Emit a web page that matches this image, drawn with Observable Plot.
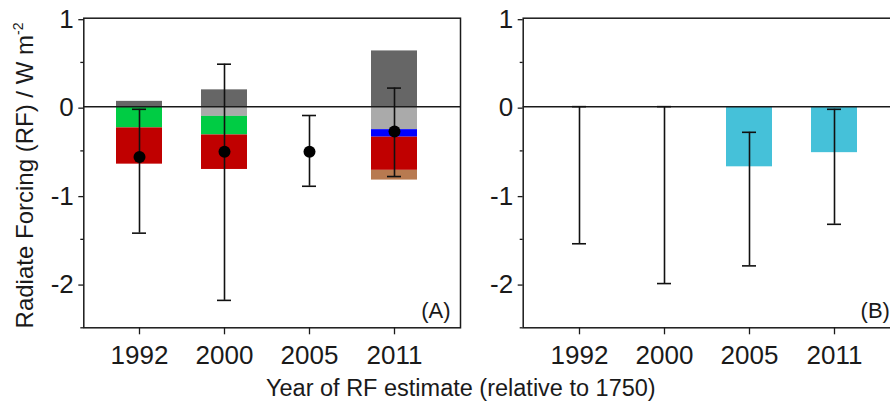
<!DOCTYPE html>
<html>
<head>
<meta charset="utf-8">
<script src="https://cdn.jsdelivr.net/npm/d3@7"></script>
<script src="https://cdn.jsdelivr.net/npm/@observablehq/plot@0.6"></script>
<style>
  html, body { margin: 0; padding: 0; background: #fff; }
  #chart { position: relative; width: 890px; height: 403px; overflow: hidden;
           font-family: "Liberation Sans", Arial, sans-serif; color: #1a1a1a; }
  #chart svg { position: absolute; top: 0; }
  #xtitle { position: absolute; left: 266px; top: 376px; font-size: 23.5px; line-height: 24px;
            white-space: nowrap; }
</style>
</head>
<body>
<div id="chart"></div>
<script>
// Estimate years (x categories) and y tick values
const years = ["1992", "2000", "2005", "2011"];
const yTicks = [-2, -1, 0, 1];
const yMinorTicks = [-2.5, -1.5, -0.5, 0.5];

// (A) aerosol components, W m-2 per estimate year (0 = not given)
const components = ["Black carbon", "Organic carbon", "Biomass burning", "Nitrate", "Sulphate", "Mineral dust"];
const componentColors = ["#666666", "#aaaaaa", "#00cc44", "#0000ff", "#c00000", "#b87a50"];
const blackCarbon    = [0.06, 0.19, 0, 0.63];
const organicCarbon  = [0, -0.11, 0, -0.26];
const biomassBurning = [-0.24, -0.21, 0, 0];
const nitrate        = [0, 0, 0, -0.085];
const sulphate       = [-0.41, -0.39, 0, -0.375];
const mineralDust    = [0, 0, 0, -0.11];

// (A) best estimate and uncertainty range
const bestA = [-0.57, -0.51, -0.51, -0.28];
const lowA  = [-1.43, -2.19, -0.90, -0.79];
const highA = [-0.03, 0.48, -0.10, 0.21];

// (B) best estimate and uncertainty range
const valueB = [null, null, -0.68, -0.52];
const lowB   = [-1.55, -2.00, -1.80, -1.33];
const highB  = [0, 0, -0.29, -0.03];

const componentValues = [blackCarbon, organicCarbon, biomassBurning, nitrate, sulphate, mineralDust];
const stackA = [];
years.forEach((year, i) => {
  components.forEach((component, j) => {
    const value = componentValues[j][i];
    if (value !== 0) stackA.push({year, component, value});
  });
});
const rangesA = years.map((year, i) => ({year, best: bestA[i], low: lowA[i], high: highA[i]}));
const rangesB = years.map((year, i) => ({year, value: valueB[i], low: lowB[i], high: highB[i]}));

const ink = "#1a1a1a";
const fmt = d => String(d);

function panel({width, marginLeft, marginRight, marks, tag}) {
  return Plot.plot({
    width, height: 403,
    marginLeft, marginRight, marginTop: 17.7, marginBottom: 75.7,
    style: {fontFamily: "Liberation Sans, Arial, sans-serif", fontSize: "26px", background: "transparent", color: ink},
    x: {domain: years, paddingInner: 0.46, paddingOuter: 0.437, align: 0.434, label: null},
    y: {domain: [-2.5, 1], label: null},
    color: {domain: components, range: componentColors},
    marks: [
      ...marks,
      Plot.frame({stroke: ink, strokeWidth: 1.5}),
      Plot.axisY({ticks: yTicks, tickFormat: fmt, tickSize: 5, tickPadding: 5, fontSize: 26, dy: 1.5, strokeWidth: 1.3, label: null}),
      Plot.axisY({ticks: yMinorTicks, tickFormat: () => "", tickSize: 3, strokeWidth: 1.3, label: null}),
      Plot.axisX({tickSize: 7, tickPadding: 10.7, fontSize: 26, strokeWidth: 1.3, label: null}),
      Plot.text([tag], {frameAnchor: "bottom-right", dx: -10, dy: -10, fontSize: 22, fill: ink})
    ]
  });
}

function errorBars(data, color) {
  return [
    Plot.ruleX(data, {x: "year", y1: "low", y2: "high", stroke: color, strokeWidth: 1.6}),
    Plot.tickY(data, {x: "year", y: "low", insetLeft: 16, insetRight: 16, stroke: color, strokeWidth: 1.6}),
    Plot.tickY(data, {x: "year", y: "high", insetLeft: 16, insetRight: 16, stroke: color, strokeWidth: 1.6})
  ];
}

const chartA = panel({
  width: 462, marginLeft: 83.3, marginRight: 2, tag: "(A)",
  marks: [
    Plot.barY(stackA, {x: "year", y: "value", fill: "component"}),
    Plot.ruleY([0], {stroke: ink, strokeWidth: 1.5}),
    ...errorBars(rangesA, "#111"),
    Plot.dot(rangesA, {x: "year", y: "best", r: 6, fill: "#000", stroke: null})
  ]
});

const chartB = panel({
  width: 440, marginLeft: 60.7, marginRight: 2.6, tag: "(B)",
  marks: [
    Plot.barY(rangesB.filter(d => d.value != null), {x: "year", y: "value", fill: "#45c1d9"}),
    Plot.ruleY([0], {stroke: ink, strokeWidth: 1.5}),
    ...errorBars(rangesB, "#111")
  ]
});

const root = document.getElementById("chart");
chartA.style.left = "0px";
chartB.style.left = "462px";
root.appendChild(chartA);
root.appendChild(chartB);

// y-axis title with superscript unit
const yTitle = d3.select(chartA).append("text")
  .attr("transform", "translate(33,175.5) rotate(-90)")
  .attr("text-anchor", "middle")
  .attr("font-size", 24)
  .attr("fill", ink);
yTitle.append("tspan").text("Radiate Forcing (RF) / W m");
yTitle.append("tspan").attr("dy", -10).attr("font-size", 14).text("-2");

const xTitle = document.createElement("div");
xTitle.id = "xtitle";
xTitle.textContent = "Year of RF estimate (relative to 1750)";
root.appendChild(xTitle);
</script>
</body>
</html>
